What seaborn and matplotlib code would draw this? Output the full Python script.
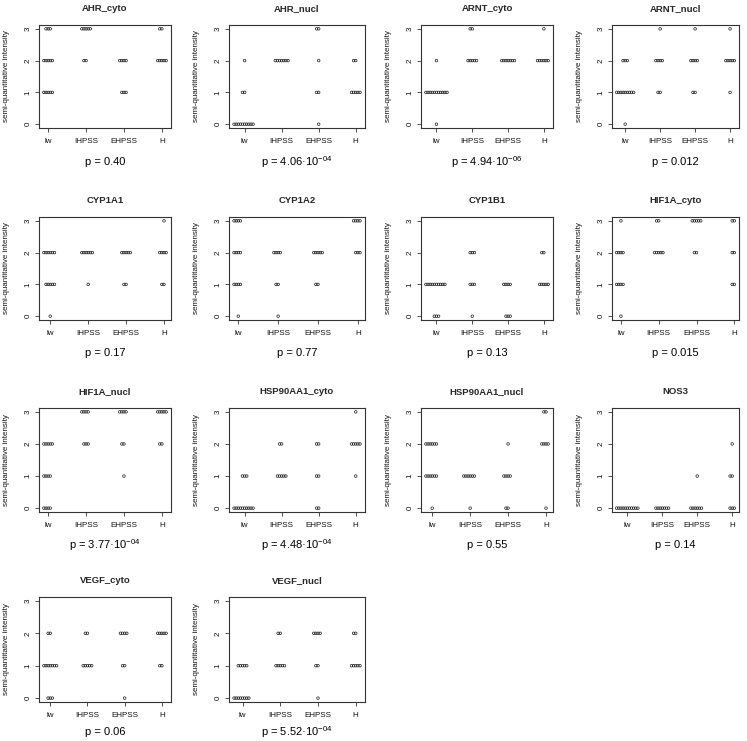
import numpy as np
import pandas as pd
import matplotlib
matplotlib.use("Agg")
import matplotlib.pyplot as plt
import seaborn as sns

# ---------------- data ----------------
groups = ["lw", "IHPSS", "EHPSS", "H"]
scores = [0, 1, 2, 3]

# counts of samples per group (rows: lw, IHPSS, EHPSS, H) at score 0,1,2,3 (cols)
AHR_cyto      = [[0, 5, 5, 3], [0, 0, 2, 5], [0, 3, 4, 0], [0, 0, 5, 2]]
AHR_nucl      = [[10, 2, 1, 0], [0, 0, 7, 0], [1, 2, 1, 2], [0, 5, 2, 0]]
ARNT_cyto     = [[1, 11, 1, 0], [0, 0, 5, 2], [0, 0, 7, 0], [0, 0, 6, 1]]
ARNT_nucl     = [[1, 9, 3, 0], [0, 2, 4, 1], [0, 2, 4, 1], [0, 1, 5, 1]]
CYP1A1        = [[1, 5, 6, 0], [0, 1, 6, 0], [0, 2, 5, 0], [0, 2, 4, 1]]
CYP1A2        = [[1, 4, 4, 4], [1, 2, 4, 0], [0, 2, 5, 0], [0, 0, 3, 4]]
CYP1B1        = [[3, 10, 0, 0], [1, 3, 3, 0], [3, 4, 0, 0], [0, 5, 2, 0]]
HIF1A_cyto    = [[1, 4, 4, 1], [0, 0, 5, 2], [0, 0, 2, 5], [0, 2, 2, 2]]
HIF1A_nucl    = [[4, 4, 5, 0], [0, 0, 3, 4], [0, 1, 2, 4], [0, 0, 2, 5]]
HSP90AA1_cyto = [[10, 3, 0, 0], [0, 5, 2, 0], [2, 2, 2, 0], [0, 1, 5, 1]]
HSP90AA1_nucl = [[1, 6, 6, 0], [1, 6, 0, 0], [2, 4, 1, 0], [1, 0, 4, 2]]
NOS3          = [[11, 0, 0, 0], [7, 0, 0, 0], [6, 1, 0, 0], [3, 2, 1, 0]]
VEGF_cyto     = [[3, 7, 2, 0], [0, 5, 2, 0], [1, 2, 4, 0], [0, 2, 5, 0]]
VEGF_nucl     = [[8, 5, 0, 0], [0, 5, 2, 0], [1, 2, 4, 0], [0, 5, 2, 0]]

markers = ["AHR_cyto", "AHR_nucl", "ARNT_cyto", "ARNT_nucl",
           "CYP1A1", "CYP1A2", "CYP1B1", "HIF1A_cyto",
           "HIF1A_nucl", "HSP90AA1_cyto", "HSP90AA1_nucl", "NOS3",
           "VEGF_cyto", "VEGF_nucl"]
counts = [AHR_cyto, AHR_nucl, ARNT_cyto, ARNT_nucl,
          CYP1A1, CYP1A2, CYP1B1, HIF1A_cyto,
          HIF1A_nucl, HSP90AA1_cyto, HSP90AA1_nucl, NOS3,
          VEGF_cyto, VEGF_nucl]
p_labels = ["p = 0.40", "p = 4.06·10$^{-04}$", "p = 4.94·10$^{-06}$", "p = 0.012",
            "p = 0.17", "p = 0.77", "p = 0.13", "p = 0.015",
            "p = 3.77·10$^{-04}$", "p = 4.48·10$^{-04}$", "p = 0.55", "p = 0.14",
            "p = 0.06", "p = 5.52·10$^{-04}$"]

# ---------------- style ----------------
sns.set_theme(style="ticks")
plt.rcParams["font.family"] = ["Liberation Sans", "DejaVu Sans"]
plt.rcParams["mathtext.fontset"] = "custom"
plt.rcParams["mathtext.rm"] = "Liberation Sans"
plt.rcParams["mathtext.it"] = "Liberation Sans:italic"
plt.rcParams["mathtext.bf"] = "Liberation Sans:bold"

W, H = 747, 741
fig = plt.figure(figsize=(W / 100, H / 100), dpi=100)
fig.patch.set_facecolor("white")

col_px = [(39, 171), (229, 365), (421, 553), (612, 739)]
row_px = [(25, 128), (217, 320), (408, 512), (597, 702)]
p_off = [34, 33, 33, 30]
edge = "#333333"

axes = []
for i, (name, cnt, ptxt) in enumerate(zip(markers, counts, p_labels)):
    r, c = divmod(i, 4)
    x0, x1 = col_px[c]
    y0, y1 = row_px[r]
    axw, axh = x1 - x0, y1 - y0
    ax = fig.add_axes([x0 / W, 1 - y1 / H, axw / W, axh / H])

    grp, val = [], []
    for g, row in zip(groups, cnt):
        for s, n in zip(scores, row):
            grp += [g] * n
            val += [s] * n
    df = pd.DataFrame({"group": grp, "score": val})

    # swarm spacing is set by this (small) size; markers are enlarged afterwards
    sns.swarmplot(data=df, x="group", y="score", order=groups, ax=ax,
                  size=1.45, color="black", linewidth=0)

    ax.set_ylim(-0.12, 3.12)
    ax.set_yticks([0, 1, 2, 3])
    ax.set_yticklabels(["0", "1", "2", "3"], rotation=90, va="center")
    ax.set_xlabel("")
    ax.set_ylabel("semi-quantitative intensity", fontsize=5.8, color="#111111")
    ax.yaxis.set_label_coords(-29 / axw, 0.5)
    ax.set_title(name, fontsize=6.8, fontweight="bold", pad=10)

    for sp in ax.spines.values():
        sp.set_visible(True)
        sp.set_color(edge)
        sp.set_linewidth(0.8)
    ax.tick_params(axis="both", direction="out", length=3, width=0.6,
                   color=edge, labelsize=5.8, labelcolor="#111111")
    ax.tick_params(axis="x", pad=4.2)
    ax.tick_params(axis="y", pad=2.4)

    ax.text(0.5, -p_off[r] / axh, ptxt, transform=ax.transAxes,
            ha="center", va="center", fontsize=8, color="black")
    axes.append(ax)

# x-limits like R: range of point positions +/- 4 %
for _ in range(3):
    fig.canvas.draw()
    for ax in axes:
        offs = np.vstack([cl.get_offsets() for cl in ax.collections if len(cl.get_offsets())])
        lo, hi = offs[:, 0].min(), offs[:, 0].max()
        pad = 0.04 * (hi - lo)
        ax.set_xlim(lo - pad, hi + pad)
fig.canvas.draw()

# freeze swarm positions, then draw open circles slightly larger (overlapping like R)
for ax in axes:
    for coll in ax.collections:
        if "draw" in coll.__dict__:
            del coll.__dict__["draw"]
        coll.set_sizes([1.85 ** 2])
        coll.set_facecolor("none")
        coll.set_edgecolor("#1a1a1a")
        coll.set_linewidth(0.5)

fig.savefig("out.png", dpi=100, facecolor="white")
